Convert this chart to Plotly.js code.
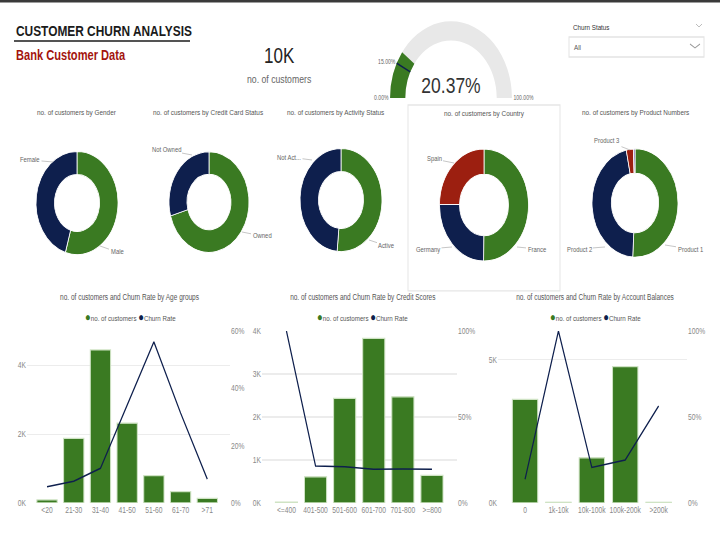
<!DOCTYPE html>
<html><head><meta charset="utf-8">
<script src="https://cdn.plot.ly/plotly-3.0.1.min.js"></script>
<style>
html,body{margin:0;padding:0;background:#fff;overflow:hidden;width:720px;height:540px}
#chart{width:720px;height:429px;transform:scaleY(1.2587);transform-origin:0 0}
</style>
</head><body><div id="chart"></div>
<script>
// ---------------- DATA ----------------
const totalCustomers = 10000;
const churnRatePct = 20.37;
const gaugeTarget = 15;
const gaugeTicks = [0, 15, 100];

const genderLabels = ['Male', 'Female'];
const genderValues = [5457, 4543];
const cardLabels = ['Owned', 'Not Owned'];
const cardValues = [7055, 2945];
const activityLabels = ['Active', 'Not Active'];
const activityValues = [5151, 4849];
const countryLabels = ['France', 'Germany', 'Spain'];
const countryValues = [5014, 2509, 2477];
const productLabels = ['Product 1', 'Product 2', 'Product 3', 'Product 4'];
const productValues = [5084, 4590, 266, 60];

const ageGroups = ['<20', '21-30', '31-40', '41-50', '51-60', '61-70', '>71'];
const ageCustomers = [89, 1880, 4450, 2320, 797, 331, 133];
const ageChurn = [0.057, 0.076, 0.121, 0.34, 0.562, 0.314, 0.083];
const ageCountTicks = [0, 2000, 4000];
const ageRateTicks = [0, 0.2, 0.4, 0.6];

const creditGroups = ['<=400', '401-500', '501-600', '601-700', '701-800', '>=800'];
const creditCustomers = [20, 610, 2430, 3830, 2470, 640];
const creditChurn = [1.0, 0.215, 0.211, 0.196, 0.198, 0.196];
const creditCountTicks = [0, 1000, 2000, 3000, 4000];
const creditRateTicks = [0, 0.5, 1];

const balanceGroups = ['0', '1k-10k', '10k-100k', '100k-200k', '>200k'];
const balanceCustomers = [3617, 25, 1575, 4759, 24];
const balanceChurn = [0.138, 1.0, 0.207, 0.25, 0.564];
const balanceCountTicks = [0, 5000];
const balanceRateTicks = [0, 0.5, 1];

// ---------------- STYLE ----------------
const GREEN = '#3a7a22', NAVY = '#0e1f4d', RED = '#9c1f10', PURPLE = '#6a4fa3';
const F = 'Liberation Sans, Arial, sans-serif';
const W = 720, H = 540, S = 540 / 429;   // page is drawn at 429px tall and stretched vertically
const X = p => p / W, Y = p => 1 - p / H;
const kfmt = v => (v / 1000) + 'K';
const pfmt = v => Math.round(v * 100) + '%';

function donut(labels, values, colors, cx, cy, r) {
  return {type: 'pie', labels, values, sort: false, direction: 'clockwise', rotation: 0,
    hole: 0.55, textinfo: 'none', showlegend: false,
    marker: {colors, line: {color: '#fff', width: 0.8}},
    domain: {x: [X(cx - r), X(cx + r)], y: [Y(cy + r * S), Y(cy - r * S)]}};
}

const traces = [
  donut(genderLabels, genderValues, [GREEN, NAVY], 77, 203, 41),
  donut(cardLabels, cardValues, [GREEN, NAVY], 209, 202, 40),
  donut(activityLabels, activityValues, [GREEN, NAVY], 341, 200, 41),
  donut(countryLabels, countryValues, [GREEN, NAVY, RED], 484, 205, 44.5),
  donut(productLabels, productValues, [GREEN, NAVY, RED, PURPLE], 635, 203, 43),
  {type: 'indicator', mode: 'gauge+number', value: churnRatePct,
    number: {suffix: '%', valueformat: '.2f', font: {family: F, size: 17.5, color: '#333'}},
    gauge: {shape: 'angular',
      axis: {range: [0, 100], tickvals: gaugeTicks, ticktext: gaugeTicks.map(v => v.toFixed(2) + '%'),
        tickfont: {family: F, size: 5.1, color: '#666'}, ticks: '', tickwidth: 0},
      bar: {color: GREEN, thickness: 1}, bgcolor: '#e8e8e8', borderwidth: 0,
      threshold: {line: {color: NAVY, width: 1.3}, thickness: 1, value: gaugeTarget}},
    domain: {x: [X(390), X(512)], y: [Y(98), Y(21.3)]}},
  {type: 'bar', x: ageGroups, y: ageCustomers, xaxis: 'x', yaxis: 'y', showlegend: false,
    marker: {color: GREEN, line: {color: '#cfe3c4', width: 1}}},
  {type: 'scatter', mode: 'lines', x: ageGroups, y: ageChurn, xaxis: 'x', yaxis: 'y2', showlegend: false,
    line: {color: NAVY, width: 1.2}},
  {type: 'bar', x: creditGroups, y: creditCustomers, xaxis: 'x2', yaxis: 'y3', showlegend: false,
    marker: {color: GREEN, line: {color: '#cfe3c4', width: 1}}},
  {type: 'scatter', mode: 'lines', x: creditGroups, y: creditChurn, xaxis: 'x2', yaxis: 'y4', showlegend: false,
    line: {color: NAVY, width: 1.2}},
  {type: 'bar', x: balanceGroups, y: balanceCustomers, xaxis: 'x3', yaxis: 'y5', showlegend: false,
    marker: {color: GREEN, line: {color: '#cfe3c4', width: 1}}},
  {type: 'scatter', mode: 'lines', x: balanceGroups, y: balanceChurn, xaxis: 'x3', yaxis: 'y6', showlegend: false,
    line: {color: NAVY, width: 1.2}}
];

const tickF = {family: F, size: 6.7, color: '#888'};
function xax(x0, x1, range, anchor) {
  return {domain: [X(x0), X(x1)], anchor, type: 'category', range, tickfont: tickF, tickangle: 0,
    showgrid: false, zeroline: false, showline: false, ticks: '', fixedrange: true};
}
function yl(range, ticks, anchor) {
  return {domain: [Y(503), Y(331)], anchor, range, tickvals: ticks, ticktext: ticks.map(kfmt),
    tickfont: tickF, gridcolor: '#ececec', gridwidth: 1, zeroline: false, showline: false, ticks: ''};
}
function yr(range, ticks, anchor, over) {
  return {overlaying: over, side: 'right', anchor, range, tickvals: ticks, ticktext: ticks.map(pfmt),
    tickfont: tickF, showgrid: false, zeroline: false, showline: false, ticks: ''};
}

const ann = [];
function txt(text, x, y, size, color, xanchor) {
  ann.push({text, x: X(x), y: Y(y), xref: 'paper', yref: 'paper', showarrow: false,
    xanchor: xanchor || 'center', yanchor: 'middle', font: {family: F, size, color}});
}
function lab(text, tx, ty, px, py) {
  ann.push({text, x: X(px), y: Y(py), xref: 'paper', yref: 'paper', ax: tx - px, ay: (ty - py) / S,
    showarrow: true, arrowhead: 0, arrowwidth: 0.6, arrowcolor: '#aaa', standoff: 0,
    font: {family: F, size: 5.9, color: '#666'}});
}
const legendText = `<span style="color:${GREEN};font-size:9.5px">●</span>no. of customers <span style="color:${NAVY};font-size:9.5px">●</span>Churn Rate`;

txt('<b>CUSTOMER CHURN ANALYSIS</b>', 14, 32, 11.9, '#1b1b1b', 'left');
txt('<b>Bank Customer Data</b>', 14, 55, 11.1, '#a3140d', 'left');
txt(kfmt(totalCustomers), 279, 56, 17, '#252423');
txt('no. of customers', 279, 79, 8.7, '#666');
txt('Churn Status', 571, 27, 6.25, '#333', 'left');
txt('All', 572, 47, 6.25, '#555', 'left');

txt('no. of customers by Gender', 77, 112, 6.4, '#555');
txt('no. of customers by Credit Card Status', 208, 112, 6.4, '#555');
txt('no. of customers by Activity Status', 335, 112, 6.4, '#555');
txt('no. of customers by Country', 484, 113, 6.4, '#555');
txt('no. of customers by Product Numbers', 635, 112, 6.4, '#555');

lab(genderLabels[1], 30, 160, 53, 162);
lab(genderLabels[0], 117, 252, 100, 246);
lab(cardLabels[1], 166, 150, 192, 155);
lab(cardLabels[0], 262, 236, 242, 232);
lab(activityLabels[1].slice(0, 7) + '...', 289, 157, 312, 160);
lab(activityLabels[0], 387, 246, 369, 240);
lab(countryLabels[2], 434, 159, 454, 163);
lab(countryLabels[1], 428, 249, 452, 247);
lab(countryLabels[0], 537, 249, 517, 247);
lab(productLabels[2], 607, 141, 630, 150);
lab(productLabels[1], 579, 249, 605, 247);
lab(productLabels[0], 690, 249, 665, 245);

txt('no. of customers and Churn Rate by Age groups', 130, 297, 6.5, '#555');
txt('no. of customers and Churn Rate by Credit Scores', 363, 297, 6.5, '#555');
txt('no. of customers and Churn Rate by Account Balances', 595, 297, 6.5, '#555');
txt(legendText, 130, 316, 6.2, '#555');
txt(legendText, 362, 316, 6.2, '#555');
txt(legendText, 595, 316, 6.2, '#555');

const shapes = [
  {type: 'rect', xref: 'paper', yref: 'paper', x0: 0, x1: 1, y0: Y(2.5), y1: 1, fillcolor: '#3a3a3a', line: {width: 0}},
  {type: 'line', xref: 'paper', yref: 'paper', x0: X(14), x1: X(190), y0: Y(41), y1: Y(41), line: {color: '#1b1b1b', width: 1.3}},
  {type: 'rect', xref: 'paper', yref: 'paper', x0: X(569), x1: X(704), y0: Y(57), y1: Y(37), line: {color: '#e4e4e4', width: 1}},
  {type: 'path', xref: 'paper', yref: 'paper', path: `M${X(690)},${Y(44)} L${X(695)},${Y(48)} L${X(700)},${Y(44)}`, line: {color: '#999', width: 0.8}},
  {type: 'path', xref: 'paper', yref: 'paper', path: `M${X(696)},${Y(24)} L${X(699)},${Y(27)} L${X(702)},${Y(24)}`, line: {color: '#aaa', width: 0.7}},
  {type: 'rect', xref: 'paper', yref: 'paper', x0: X(408), x1: X(560), y0: Y(291), y1: Y(105), line: {color: '#e6e6e6', width: 1}}
];

const layout = {
  width: W, height: 429, margin: {l: 0, r: 0, t: 0, b: 0},
  paper_bgcolor: '#fff', plot_bgcolor: 'rgba(0,0,0,0)', showlegend: false, bargap: 0.24,
  font: {family: F, color: '#666'},
  xaxis: xax(27, 230, [-0.75, 6.85], 'y'),
  yaxis: yl([0, 5000], ageCountTicks, 'x'),
  yaxis2: yr([0, 0.6], ageRateTicks, 'x', 'y'),
  xaxis2: xax(262, 457, [-0.84, 5.86], 'y3'),
  yaxis3: yl([0, 4000], creditCountTicks, 'x2'),
  yaxis4: yr([0, 1], creditRateTicks, 'x2', 'y3'),
  xaxis3: xax(498, 687, [-0.81, 4.85], 'y5'),
  yaxis5: yl([0, 6000], balanceCountTicks, 'x3'),
  yaxis6: yr([0, 1], balanceRateTicks, 'x3', 'y5'),
  annotations: ann, shapes
};
Plotly.newPlot('chart', traces, layout, {displayModeBar: false, staticPlot: true});
</script></body></html>
